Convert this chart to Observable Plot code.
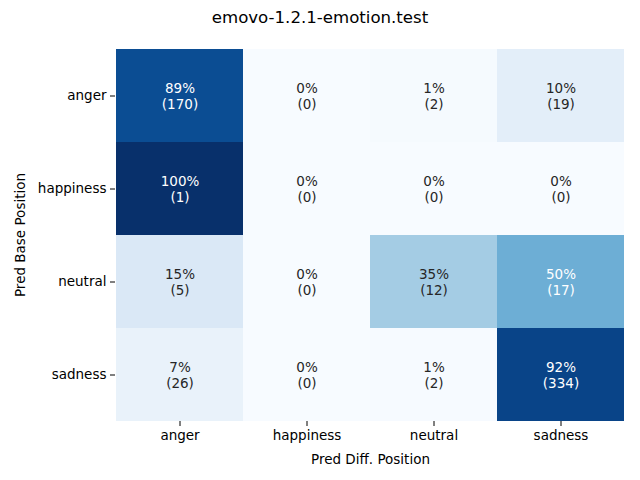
<!DOCTYPE html>
<html>
<head>
<meta charset="utf-8">
<script src="https://cdn.jsdelivr.net/npm/d3@7"></script>
<script src="https://cdn.jsdelivr.net/npm/@observablehq/plot@0.6"></script>
<style>
  body { margin: 0; background: #fff; font-family: "DejaVu Sans", sans-serif; }
  #title { width: 640px; height: 36px; line-height: 36px; text-align: center; font-size: 16.6px; color: #000; }
</style>
</head>
<body>
<div id="title">emovo-1.2.1-emotion.test</div>
<div id="chart"></div>
<script>
const predDiff = ["anger", "happiness", "neutral", "sadness"];
const predBase = ["anger", "happiness", "neutral", "sadness"];
const countsAnger = [170, 0, 2, 19];
const countsHappiness = [1, 0, 0, 0];
const countsNeutral = [5, 0, 12, 17];
const countsSadness = [26, 0, 2, 334];
const rowCounts = [countsAnger, countsHappiness, countsNeutral, countsSadness];

const table = [];
predBase.forEach((b, i) => {
  const row = rowCounts[i];
  const total = d3.sum(row);
  predDiff.forEach((d, j) => {
    const frac = total ? row[j] / total : 0;
    table.push({base: b, diff: d, count: row[j], frac});
  });
});

const chart = Plot.plot({
  width: 640,
  height: 444,
  marginTop: 12,
  marginBottom: 59,
  marginLeft: 115,
  marginRight: 15,
  style: {fontFamily: "DejaVu Sans, sans-serif", fontSize: "13.5px", color: "#000", background: "#fff"},
  x: {domain: predDiff, padding: 0},
  y: {domain: predBase, padding: 0},
  color: {type: "linear", scheme: "blues", domain: [0, 1]},
  marks: [
    Plot.cell(table, {x: "diff", y: "base", fill: "frac"}),
    Plot.text(table, {
      x: "diff", y: "base",
      text: d => `${Math.round(d.frac * 100)}%\n(${d.count})`,
      lineHeight: 1.2,
      fontSize: 13.5,
      fill: d => d.frac > 0.45 ? "#fff" : "#262626"
    }),
    Plot.axisX({tickSize: 5, tickPadding: 4, fontSize: 13.5, label: "Pred Diff. Position", labelAnchor: "center", labelOffset: 42}),
    Plot.axisY({tickSize: 5, tickPadding: 4, fontSize: 13.5, label: "Pred Base Position", labelAnchor: "center", labelOffset: 100})
  ]
});
document.getElementById("chart").appendChild(chart);
</script>
</body>
</html>
